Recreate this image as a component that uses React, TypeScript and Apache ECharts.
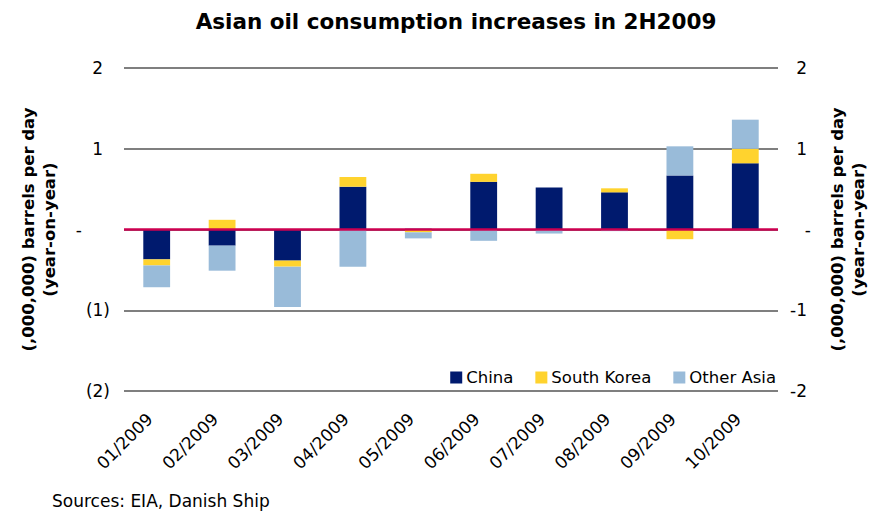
import React, { useEffect, useRef } from "react";
import * as echarts from "echarts";

const categories = ["01/2009", "02/2009", "03/2009", "04/2009", "05/2009", "06/2009", "07/2009", "08/2009", "09/2009", "10/2009"];
const china = [-0.37, -0.2, -0.385, 0.53, 0.01, 0.59, 0.52, 0.46, 0.67, 0.82];
const southKorea = [-0.075, 0.12, -0.075, 0.12, -0.035, 0.1, 0, 0.05, -0.12, 0.18];
const otherAsia = [-0.27, -0.31, -0.5, -0.46, -0.075, -0.14, -0.05, -0.02, 0.36, 0.36];

const FONT = "DejaVu Sans";

export default function App() {
  const ref = useRef<HTMLDivElement>(null);
  useEffect(() => {
    if (!ref.current) return;
    const chart = echarts.init(ref.current, null, { renderer: "svg" });
    const yName = "(,000,000) barrels per day\n(year-on-year)";
    const nameStyle = { fontFamily: FONT, fontSize: 16.5, fontWeight: "bold" as const, color: "#000", lineHeight: 21, align: "center" as const };
    chart.setOption({
      animation: false,
      backgroundColor: "#fff",
      title: {
        text: "Asian oil consumption increases in 2H2009",
        left: 451,
        top: 5,
        textAlign: "center",
        textStyle: { fontFamily: FONT, fontSize: 21.5, fontWeight: "bold", color: "#000" },
      },
      legend: {
        right: 100,
        top: 364,
        icon: "rect",
        itemWidth: 12,
        itemHeight: 12,
        itemGap: 22,
        textStyle: { fontFamily: FONT, fontSize: 16.5, color: "#000", padding: [0, 0, 0, -1] },
        data: ["China", "South Korea", "Other Asia"],
      },
      grid: { left: 124, right: 103, top: 68, bottom: 122 },
      xAxis: {
        type: "category",
        data: categories,
        axisLine: { show: false },
        axisTick: { show: false },
        axisLabel: { rotate: 45, margin: 18, padding: [0, 10, 0, 0], fontFamily: FONT, fontSize: 17, color: "#000", interval: 0 },
      },
      yAxis: [
        {
          type: "value",
          min: -2,
          max: 2,
          interval: 1,
          position: "left",
          name: yName,
          nameLocation: "middle",
          nameRotate: 90,
          nameGap: 64,
          nameTextStyle: nameStyle,
          axisLine: { show: false },
          axisTick: { show: false },
          splitLine: { lineStyle: { color: "#555", width: 1.5 } },
          axisLabel: {
            margin: 14,
            fontFamily: FONT,
            fontSize: 17,
            color: "#000",
            formatter: (v: number) => (v > 0 ? `{p|${v}}` : v === 0 ? "{z|-}" : `(${-v})`),
            rich: {
              p: { fontFamily: FONT, fontSize: 17, color: "#000", padding: [0, 7, 0, 0] },
              z: { fontFamily: FONT, fontSize: 17, color: "#000", padding: [0, 28, 0, 0] },
            },
          },
        },
        {
          type: "value",
          min: -2,
          max: 2,
          interval: 1,
          position: "right",
          name: yName,
          nameLocation: "middle",
          nameRotate: 90,
          nameGap: 49,
          nameTextStyle: nameStyle,
          axisLine: { show: false },
          axisTick: { show: false },
          splitLine: { show: false },
          axisLabel: {
            margin: 33,
            align: "right",
            fontFamily: FONT,
            fontSize: 17,
            color: "#000",
            formatter: (v: number) => (v === 0 ? "-" : `{p|${v}}`),
            rich: {
              p: { fontFamily: FONT, fontSize: 17, color: "#000", padding: [0, 4, 0, 0] },
            },
          },
        },
      ],
      series: [
        {
          name: "China",
          type: "bar",
          stack: "total",
          barWidth: "41%",
          data: china,
          itemStyle: { color: "#001A6E" },
          markLine: {
            silent: true,
            symbol: "none",
            label: { show: false },
            lineStyle: { color: "#CC0050", width: 2.5, type: "solid" },
            data: [{ yAxis: 0 }],
          },
          z: 2,
        },
        { name: "South Korea", type: "bar", stack: "total", data: southKorea, itemStyle: { color: "#FFD32E" } },
        { name: "Other Asia", type: "bar", stack: "total", data: otherAsia, itemStyle: { color: "#99BBD9" } },
      ],
      graphic: [
        {
          type: "text",
          left: 52,
          top: 492,
          style: { text: "Sources: EIA, Danish Ship", fontFamily: FONT, fontSize: 17, fill: "#000" },
        },
      ],
    });
    return () => chart.dispose();
  }, []);
  return <div ref={ref} style={{ position: "fixed", left: 0, top: 0, width: 881, height: 513 }} />;
}
